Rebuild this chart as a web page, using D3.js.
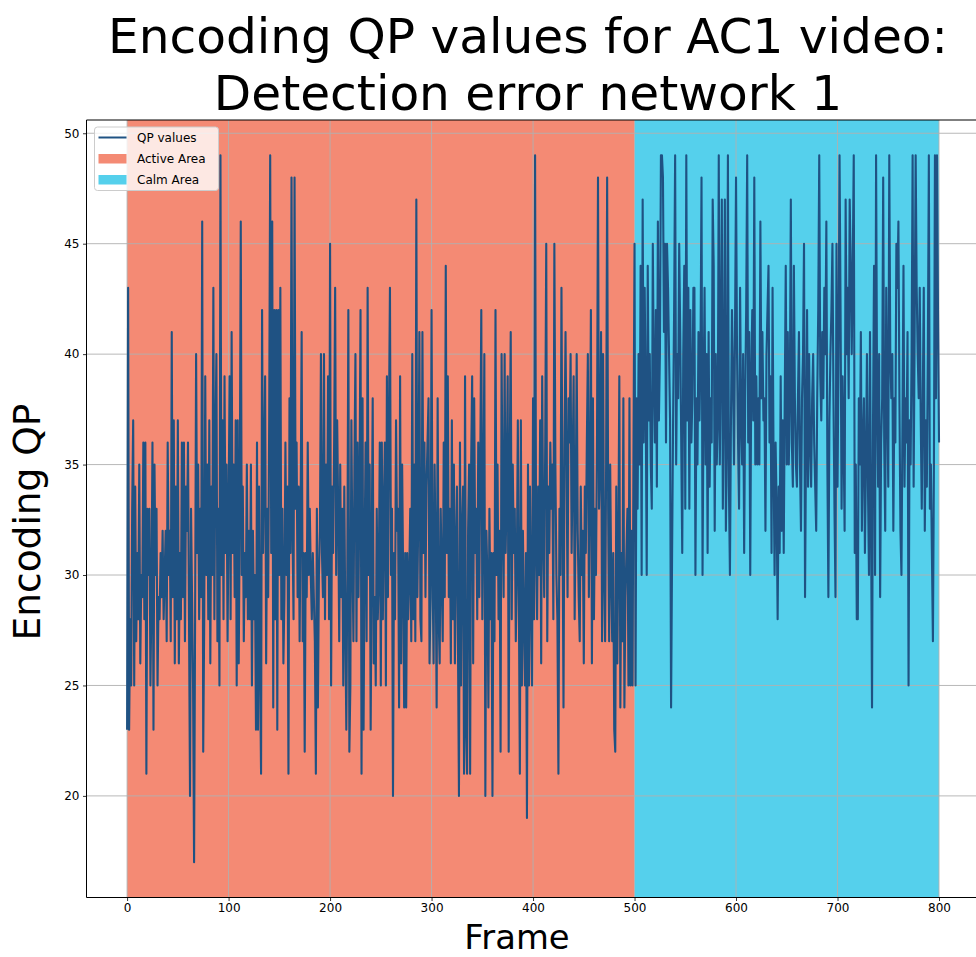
<!DOCTYPE html>
<html>
<head>
<meta charset="utf-8">
<script src="https://cdn.jsdelivr.net/npm/d3@7"></script>
<style>
  body { margin: 0; background: #ffffff; }
  svg { display: block; }
  text { font-family: "DejaVu Sans", sans-serif; }
</style>
</head>
<body>
<svg id="chart" width="976" height="957"></svg>
<script>
// Encoding QP per frame, frames 0..800
const qpValues = [
  23,43,23,28,25,33,37,25,34,27,31,28,35,26,30,29,36,28,36,21,33,30,33,25,29,36,23,35,30,33,25,29,28,31,29,32,28,30,32,27,36,30,32,27,41,29,37,26,34,28,
  37,26,31,28,36,29,36,27,34,32,36,28,20,33,29,25,17,28,40,31,35,28,33,29,46,22,28,39,30,35,28,37,26,34,30,43,28,36,40,27,33,25,49,30,37,28,39,31,35,27,
  33,39,28,41,31,35,29,37,25,37,26,33,46,30,34,27,31,29,35,28,32,28,35,25,32,28,30,23,36,23,34,26,21,42,31,35,39,26,33,29,37,49,31,46,24,42,28,42,23,42,
  30,43,28,33,26,29,36,30,34,21,38,31,48,32,28,48,33,36,29,34,27,33,41,27,31,22,31,29,36,30,33,30,28,31,29,27,21,33,24,30,32,40,31,29,40,28,35,30,39,28,
  45,25,34,31,36,43,30,37,33,27,35,29,33,25,34,28,23,30,42,22,25,37,31,27,35,40,27,36,29,34,42,21,38,23,31,36,27,43,30,35,23,31,38,26,29,25,33,28,30,36,
  25,36,28,33,36,25,39,29,37,43,30,33,20,31,28,37,32,33,24,39,26,35,30,24,31,24,31,28,30,33,27,40,28,35,27,47,29,33,41,28,27,41,31,36,29,34,36,38,26,29,
  42,30,26,35,31,24,38,28,26,33,30,27,36,29,44,31,39,29,33,26,37,28,35,26,31,34,27,20,36,25,32,34,21,39,23,21,32,35,21,35,39,26,38,31,33,28,36,29,35,42,
  28,33,40,20,32,30,24,33,28,31,20,31,27,42,30,35,28,32,22,40,33,29,40,31,34,39,22,35,41,28,35,31,33,27,30,37,29,21,37,25,32,28,25,31,19,35,25,34,29,25,
  38,28,49,31,28,34,30,37,26,39,32,29,36,45,27,34,31,36,33,35,28,45,35,30,28,21,33,30,43,33,24,36,41,35,29,38,36,40,31,35,39,28,33,40,32,29,27,34,30,32,
  26,34,31,36,40,29,34,42,26,38,28,33,30,36,48,33,35,41,27,40,30,27,35,48,33,27,35,30,27,31,23,22,34,26,31,39,24,31,27,38,24,29,31,33,25,38,25,32,25,36,
  45,25,38,33,40,35,44,30,47,36,43,38,30,44,37,40,35,33,45,39,36,42,34,46,37,40,49,49,48,41,45,36,45,43,40,37,24,31,37,42,49,35,40,38,45,41,36,31,40,44,
  33,49,37,43,33,42,36,38,43,43,30,38,35,41,37,40,48,30,38,43,35,40,31,41,34,38,36,47,44,32,40,35,37,49,35,40,47,33,38,47,32,36,49,34,30,37,42,39,35,41,
  48,40,36,33,43,37,35,40,31,38,42,49,36,41,30,39,42,37,48,35,39,35,38,35,46,38,41,37,38,32,40,42,44,36,39,31,43,35,30,36,33,28,34,31,39,32,37,31,38,44,
  35,41,35,38,47,36,34,44,38,35,34,38,41,35,32,38,40,45,29,36,42,34,40,36,34,38,40,36,34,32,38,42,49,39,37,41,38,43,40,46,35,29,37,40,42,45,38,33,29,45,
  34,40,49,42,33,39,36,32,47,40,43,38,47,44,40,44,49,31,35,28,28,38,35,41,32,36,38,31,35,40,34,30,41,33,24,37,44,30,49,38,34,40,29,36,38,48,36,32,43,38,
  34,49,40,38,40,32,38,36,45,43,46,38,32,30,37,44,34,38,36,41,25,37,35,40,49,34,41,49,43,40,38,43,37,33,38,43,32,37,34,40,49,33,35,31,27,35,49,38,49,42,36
];

// Frame ranges of the two shaded regions
const activeArea = [0, 500];
const calmArea = [500, 800];

const xTicks = [0, 100, 200, 300, 400, 500, 600, 700, 800];
const yTicks = [20, 25, 30, 35, 40, 45, 50];

const titleLines = ["Encoding QP values for AC1 video:", "Detection error network 1"];
const xLabel = "Frame";
const yLabel = "Encoding QP";

const legendItems = [
  { label: "QP values", kind: "line", color: "#1f5283" },
  { label: "Active Area", kind: "patch", color: "#f48a74" },
  { label: "Calm Area", kind: "patch", color: "#55d0ec" }
];

// Plot box
const plot = { left: 86.5, right: 979.6, top: 120, bottom: 897.5 };

const svg = d3.select("#chart");

const x = d3.scaleLinear().domain([-40, 840]).range([plot.left, plot.right]);
const y = d3.scaleLinear().domain([15.4, 50.6]).range([plot.bottom, plot.top]);

svg.append("defs").append("clipPath").attr("id", "plot-clip")
  .append("rect")
  .attr("x", plot.left).attr("y", plot.top)
  .attr("width", plot.right - plot.left).attr("height", plot.bottom - plot.top);

const body = svg.append("g").attr("clip-path", "url(#plot-clip)");

// Shaded regions
body.append("rect")
  .attr("x", x(activeArea[0])).attr("width", x(activeArea[1]) - x(activeArea[0]))
  .attr("y", plot.top).attr("height", plot.bottom - plot.top)
  .attr("fill", legendItems[1].color);
body.append("rect")
  .attr("x", x(calmArea[0])).attr("width", x(calmArea[1]) - x(calmArea[0]))
  .attr("y", plot.top).attr("height", plot.bottom - plot.top)
  .attr("fill", legendItems[2].color);

// Grid
body.append("g").selectAll("line").data(xTicks).join("line")
  .attr("x1", d => x(d)).attr("x2", d => x(d))
  .attr("y1", plot.top).attr("y2", plot.bottom)
  .attr("stroke", "#b0b0b0").attr("stroke-width", 0.9);
body.append("g").selectAll("line").data(yTicks).join("line")
  .attr("y1", d => y(d)).attr("y2", d => y(d))
  .attr("x1", plot.left).attr("x2", plot.right)
  .attr("stroke", "#b0b0b0").attr("stroke-width", 0.9);

// QP line
const line = d3.line().x((d, i) => x(i)).y(d => y(d));
body.append("path")
  .datum(qpValues)
  .attr("d", line)
  .attr("fill", "none")
  .attr("stroke", legendItems[0].color)
  .attr("stroke-width", 2.1)
  .attr("stroke-linejoin", "round");

// Axes
const xAxis = svg.append("g")
  .attr("transform", `translate(0,${plot.bottom})`)
  .call(d3.axisBottom(x).tickValues(xTicks).tickSize(3.5).tickPadding(2.5).tickSizeOuter(0));
const yAxis = svg.append("g")
  .attr("transform", `translate(${plot.left},0)`)
  .call(d3.axisLeft(y).tickValues(yTicks).tickSize(3.5).tickPadding(3.5).tickSizeOuter(0));

[xAxis, yAxis].forEach(g => {
  g.select(".domain").remove();
  g.selectAll(".tick line").attr("stroke", "#000").attr("stroke-width", 0.8);
  g.selectAll(".tick text").attr("fill", "#000")
    .style("font-family", "'DejaVu Sans', sans-serif").style("font-size", "12px");
});

// Spines
const spine = svg.append("g").attr("stroke", "#000").attr("stroke-width", 1).attr("fill", "none");
spine.append("line").attr("x1", plot.left).attr("x2", plot.left).attr("y1", plot.top).attr("y2", plot.bottom);
spine.append("line").attr("x1", plot.left).attr("x2", plot.right).attr("y1", plot.bottom).attr("y2", plot.bottom);
spine.append("line").attr("x1", plot.left).attr("x2", plot.right).attr("y1", plot.top).attr("y2", plot.top);
spine.append("line").attr("x1", plot.right).attr("x2", plot.right).attr("y1", plot.top).attr("y2", plot.bottom);

// Title
svg.append("text")
  .attr("x", 528).attr("text-anchor", "middle")
  .style("font-size", "48.6px").attr("fill", "#000")
  .selectAll("tspan").data(titleLines).join("tspan")
  .attr("x", 528).attr("y", (d, i) => 53 + i * 57)
  .text(d => d);

// Axis labels
svg.append("text")
  .attr("x", 517).attr("y", 949).attr("text-anchor", "middle")
  .style("font-size", "33.8px").attr("fill", "#000")
  .text(xLabel);
svg.append("text")
  .attr("transform", "translate(40,522) rotate(-90)")
  .attr("text-anchor", "middle")
  .style("font-size", "37.5px").attr("fill", "#000")
  .text(yLabel);

// Legend
const legend = svg.append("g");
legend.append("rect")
  .attr("x", 94.5).attr("y", 127).attr("width", 124).attr("height", 63.5)
  .attr("rx", 3).attr("fill", "#ffffff").attr("fill-opacity", 0.8)
  .attr("stroke", "#cccccc").attr("stroke-width", 1);
const rows = legend.selectAll("g.item").data(legendItems).join("g")
  .attr("class", "item")
  .attr("transform", (d, i) => `translate(0,${137.5 + i * 21})`);
rows.filter(d => d.kind === "line").append("line")
  .attr("x1", 98.5).attr("x2", 126.5).attr("y1", 0).attr("y2", 0)
  .attr("stroke", d => d.color).attr("stroke-width", 2);
rows.filter(d => d.kind === "patch").append("rect")
  .attr("x", 98.5).attr("y", -4.5).attr("width", 28).attr("height", 9.5)
  .attr("fill", d => d.color);
rows.append("text")
  .attr("x", 137).attr("y", 4.5)
  .style("font-size", "12px").attr("fill", "#000")
  .text(d => d.label);
</script>
</body>
</html>
